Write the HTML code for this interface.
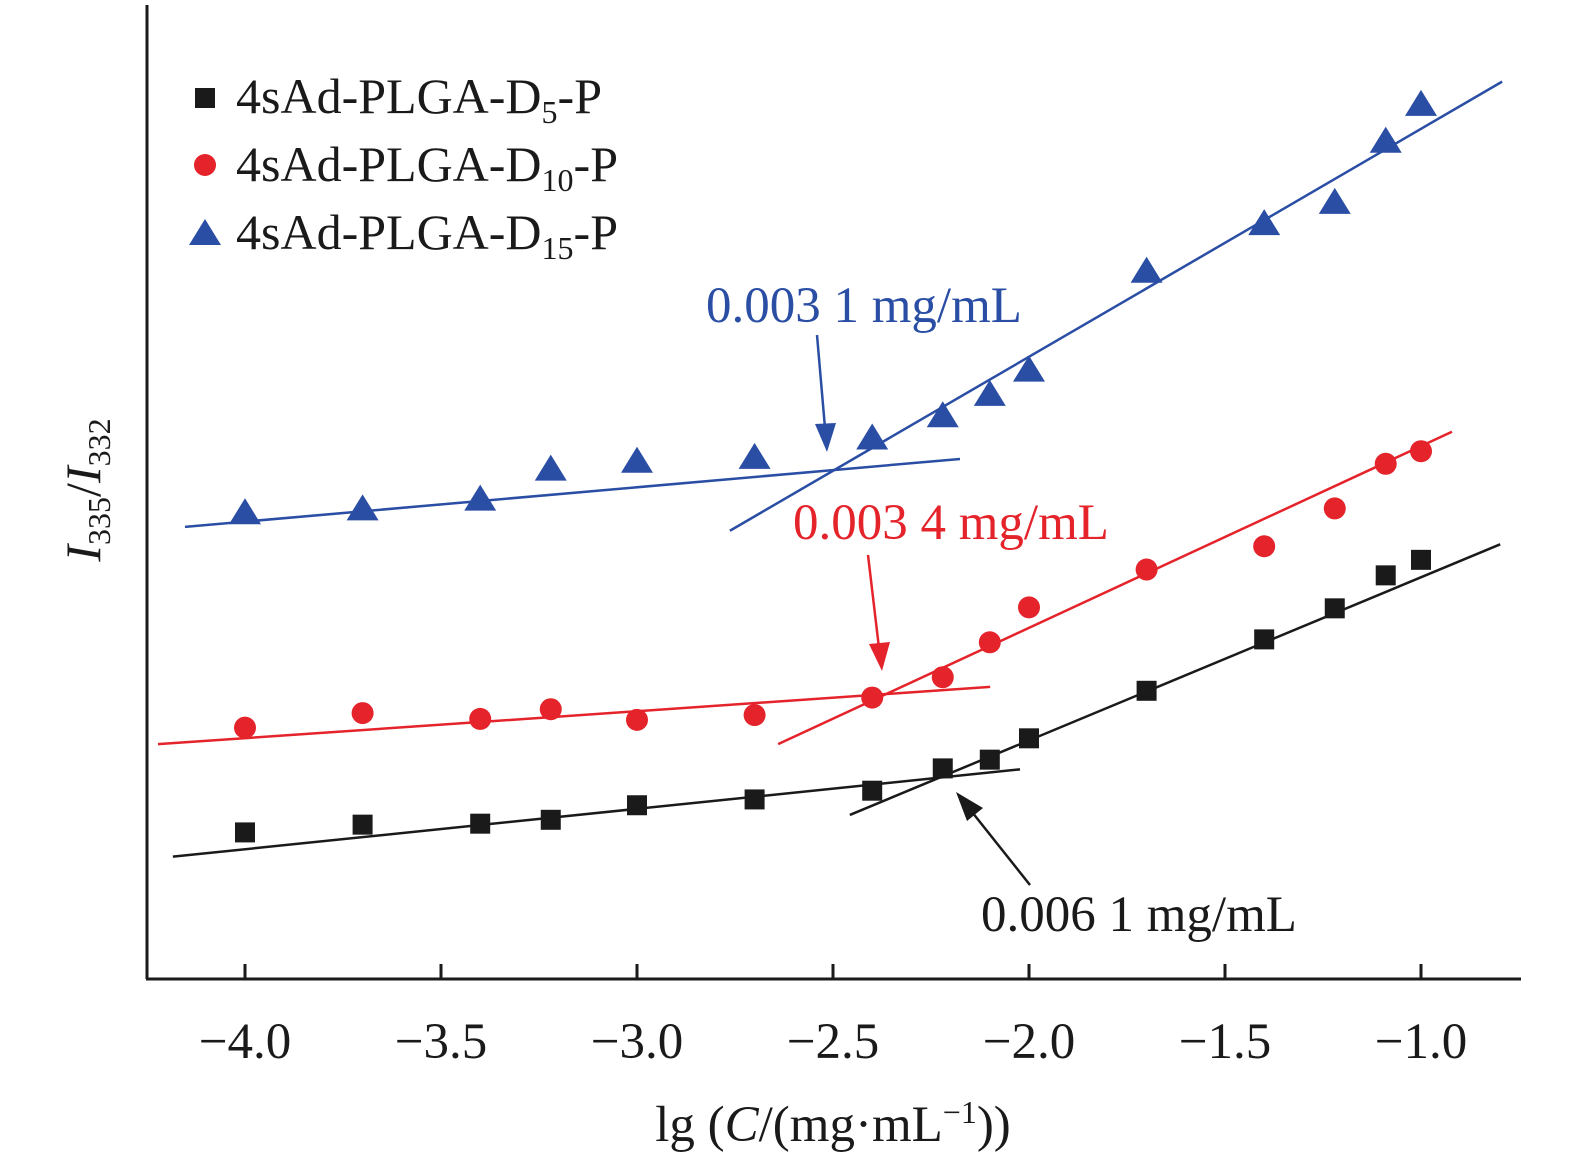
<!DOCTYPE html>
<html><head><meta charset="utf-8"><style>
html,body{margin:0;padding:0;background:#fff;}
svg{display:block;font-family:"Liberation Serif",serif;}
</style></head><body>
<svg id="chart" width="1575" height="1165" viewBox="0 0 1575 1165">
<g id="axes">
<line x1="147" y1="5" x2="147" y2="979" stroke="#1a1a1a" stroke-width="3"/>
<line x1="146" y1="979" x2="1521" y2="979" stroke="#1a1a1a" stroke-width="3"/>
</g>
<g id="ticks"></g>
<g id="fits"></g>
<g id="marks"></g>
<text x="833" y="1141" font-size="51" text-anchor="middle" fill="#1a1a1a">lg  (<tspan font-style="italic">C</tspan>/(mg·mL<tspan font-size="32" dy="-18">−1</tspan><tspan dy="18">))</tspan></text>
<text transform="translate(100,490) rotate(-90)" font-size="50" text-anchor="middle" fill="#1a1a1a"><tspan font-style="italic">I</tspan><tspan font-size="32" dy="10">335</tspan><tspan dy="-10">/</tspan><tspan font-style="italic">I</tspan><tspan font-size="32" dy="10">332</tspan></text>
<g>
<g>
<rect x="195" y="88" width="20" height="20" fill="#1a1a1a"/>
<text x="236" y="113" font-size="50" fill="#1a1a1a">4sAd-PLGA-D<tspan font-size="32" dy="10">5</tspan><tspan dy="-10">-P</tspan></text></g>
<g>
<circle cx="205" cy="165" r="11" fill="#e4232b"/>
<text x="236" y="181" font-size="50" fill="#1a1a1a">4sAd-PLGA-D<tspan font-size="32" dy="10">10</tspan><tspan dy="-10">-P</tspan></text></g>
<g>
<polygon points="205,219 221,245 189,245" fill="#2b4ea5"/>
<text x="236" y="249" font-size="50" fill="#1a1a1a">4sAd-PLGA-D<tspan font-size="32" dy="10">15</tspan><tspan dy="-10">-P</tspan></text></g>
</g>
<g>
<text x="706" y="322" font-size="51" fill="#2b4ea5">0.003 1 mg/mL</text>
<line x1="817" y1="335" x2="825" y2="428" stroke="#2b4ea5" stroke-width="2.5"/>
<polygon points="827,452 815,424 836,423" fill="#2b4ea5"/></g>
<g>
<text x="793" y="539" font-size="51" fill="#e4232b">0.003 4 mg/mL</text>
<line x1="868" y1="555" x2="879" y2="648" stroke="#e4232b" stroke-width="2.5"/>
<polygon points="882,671 869,644 890,642" fill="#e4232b"/></g>
<g>
<text x="981" y="931" font-size="51" fill="#1a1a1a">0.006 1 mg/mL</text>
<line x1="1030" y1="885" x2="972" y2="812" stroke="#1a1a1a" stroke-width="2.5"/>
<polygon points="956,792 983,808 967,821" fill="#1a1a1a"/></g>
<script>
const xTicks=[-4.0,-3.5,-3.0,-2.5,-2.0,-1.5,-1.0];
const xTickLabels=["−4.0","−3.5","−3.0","−2.5","−2.0","−1.5","−1.0"];
const xValues=[-4,-3.7,-3.4,-3.22,-3,-2.7,-2.4,-2.22,-2.1,-2,-1.7,-1.4,-1.22,-1.09,-1];
const d5Values=[0.147,0.155,0.156,0.160,0.175,0.181,0.190,0.213,0.222,0.244,0.293,0.346,0.378,0.412,0.428];
const d10Values=[0.255,0.270,0.264,0.274,0.263,0.268,0.286,0.307,0.343,0.379,0.418,0.442,0.481,0.527,0.540];
const d15Values=[0.474,0.478,0.488,0.519,0.527,0.531,0.551,0.574,0.596,0.621,0.723,0.772,0.794,0.857,0.895];
const d5FitX=[[-4.184,-2.023],[-2.457,-0.798]];
const d5FitY=[[0.122,0.212],[0.165,0.444]];
const d10FitX=[[-4.222,-2.099],[-2.640,-0.921]];
const d10FitY=[[0.238,0.297],[0.238,0.560]];
const d15FitX=[[-4.153,-2.176],[-2.763,-0.793]];
const d15FitY=[[0.462,0.532],[0.458,0.921]];
const NS="http://www.w3.org/2000/svg";
function xs(v){return 245+(v+4)*392;}
function ys(v){return 975-v*970;}
function mk(tag,attrs,parent){const e=document.createElementNS(NS,tag);for(const k in attrs)e.setAttribute(k,attrs[k]);parent.appendChild(e);return e;}
const tg=document.getElementById('ticks');
xTicks.forEach((t,i)=>{
 const l=mk('line',{x1:xs(t),x2:xs(t),y1:964,y2:979,stroke:'#1a1a1a','stroke-width':3},tg);
 
 
 const tx=mk('text',{x:xs(t),y:1058,'font-size':51,'text-anchor':'middle',fill:'#1a1a1a'},tg);
 tx.textContent=xTickLabels[i];
 
 
});
const fg=document.getElementById('fits');
[[d5FitX,d5FitY,'#1a1a1a','d5'],[d10FitX,d10FitY,'#e4232b','d10'],[d15FitX,d15FitY,'#2b4ea5','d15']].forEach(([fx,fy,c,n])=>{
 fx.forEach((seg,i)=>{
  const l=mk('line',{x1:xs(seg[0]),y1:ys(fy[i][0]),x2:xs(seg[1]),y2:ys(fy[i][1]),stroke:c,'stroke-width':2.5},fg);
  
  
 });
});
const mg=document.getElementById('marks');
xValues.forEach((x,i)=>{
 const cx=xs(x);
 let y=ys(d5Values[i]);
 const r=mk('rect',{x:cx-10,y:y-10,width:20,height:20,fill:'#1a1a1a'},mg);
 
 
 y=ys(d10Values[i]);
 const c=mk('circle',{cx:cx,cy:y,r:11,fill:'#e4232b'},mg);
 
 
 y=ys(d15Values[i]);
 const p=mk('polygon',{points:`${cx},${y-17} ${cx+16},${y+9} ${cx-16},${y+9}`,fill:'#2b4ea5'},mg);
 
 
});
</script>
</svg>
</body></html>
